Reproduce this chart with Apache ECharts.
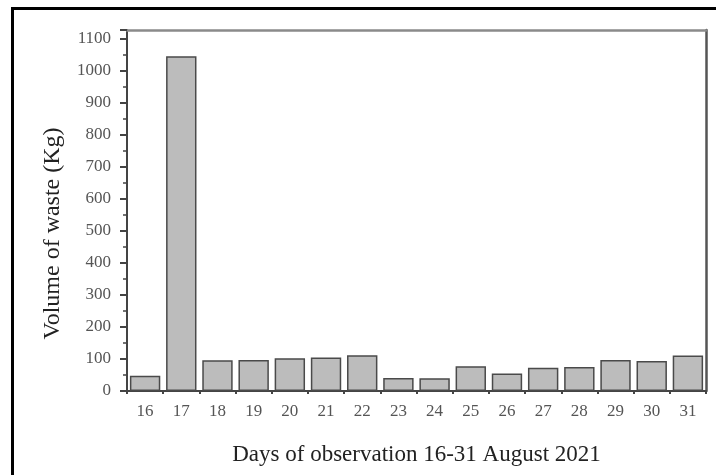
<!DOCTYPE html>
<html>
<head>
<meta charset="utf-8">
<script src="https://cdn.jsdelivr.net/npm/echarts@6/dist/echarts.min.js"></script>
<style>
html,body{margin:0;padding:0;background:#fff;}
#wrap{position:relative;width:716px;height:475px;overflow:hidden;}
#chart{width:716px;height:475px;}
#frame{position:absolute;left:11px;top:7px;width:720px;height:480px;border-left:3px solid #000;border-top:3px solid #000;pointer-events:none;}
</style>
</head>
<body>
<div id="wrap"><div id="chart"></div><div id="frame"></div></div>
<script>
var days = ['16','17','18','19','20','21','22','23','24','25','26','27','28','29','30','31'];
var wasteKg = [48, 1046, 96, 97, 102, 105, 112, 41, 40, 77, 55, 73, 75, 97, 94, 111];
var yTitle = 'Volume of waste (Kg)';
var xTitle = 'Days of observation 16-31 August 2021';

var serif = '"Liberation Serif", "Times New Roman", serif';
var chart = echarts.init(document.getElementById('chart'));
chart.setOption({
  animation: false,
  grid: {left: 127, right: 10, top: 30, bottom: 84},
  xAxis: [{
    type: 'category',
    data: days,
    position: 'bottom',
    axisLine: {lineStyle: {color: '#444', width: 2}},
    axisTick: {alignWithLabel: true, length: 6, lineStyle: {color: '#444', width: 2}},
    axisLabel: {fontFamily: serif, fontSize: 17, color: '#555', margin: 12},
    name: xTitle,
    nameLocation: 'middle',
    nameGap: 52,
    nameTextStyle: {fontFamily: serif, fontSize: 23, color: '#222'}
  }, {
    type: 'category',
    data: days,
    position: 'bottom',
    axisLine: {show: false},
    axisTick: {show: true, length: 3, lineStyle: {color: '#444', width: 2}},
    axisLabel: {show: false}
  }, {
    type: 'category',
    data: days,
    position: 'top',
    axisLine: {show: true, lineStyle: {color: '#8a8a8a', width: 2.5}},
    axisTick: {show: false},
    axisLabel: {show: false}
  }],
  yAxis: [{
    type: 'value',
    min: 0,
    max: 1128,
    interval: 100,
    position: 'left',
    splitLine: {show: false},
    axisLine: {show: true, lineStyle: {color: '#444', width: 2}},
    axisTick: {show: true, length: 7, lineStyle: {color: '#444', width: 2}},
    minorTick: {show: true, splitNumber: 2, length: 4, lineStyle: {color: '#444', width: 1.5}},
    axisLabel: {fontFamily: serif, fontSize: 17, color: '#555', margin: 16, showMaxLabel: false,
      formatter: function (v) { return String(v); }},
    name: yTitle,
    nameLocation: 'middle',
    nameGap: 62,
    nameTextStyle: {fontFamily: serif, fontSize: 24, color: '#222', padding: [0, 46, 0, 0]}
  }, {
    type: 'value',
    min: 0,
    max: 1128,
    interval: 100,
    position: 'right',
    splitLine: {show: false},
    axisLine: {show: true, lineStyle: {color: '#555', width: 2.5}},
    axisTick: {show: false},
    axisLabel: {show: false}
  }],
  series: [{
    type: 'bar',
    data: wasteKg,
    xAxisIndex: 0,
    yAxisIndex: 0,
    barCategoryGap: '16%',
    itemStyle: {color: '#bcbcbc', borderColor: '#4a4a4a', borderWidth: 1.5}
  }]
});
</script>
</body>
</html>
